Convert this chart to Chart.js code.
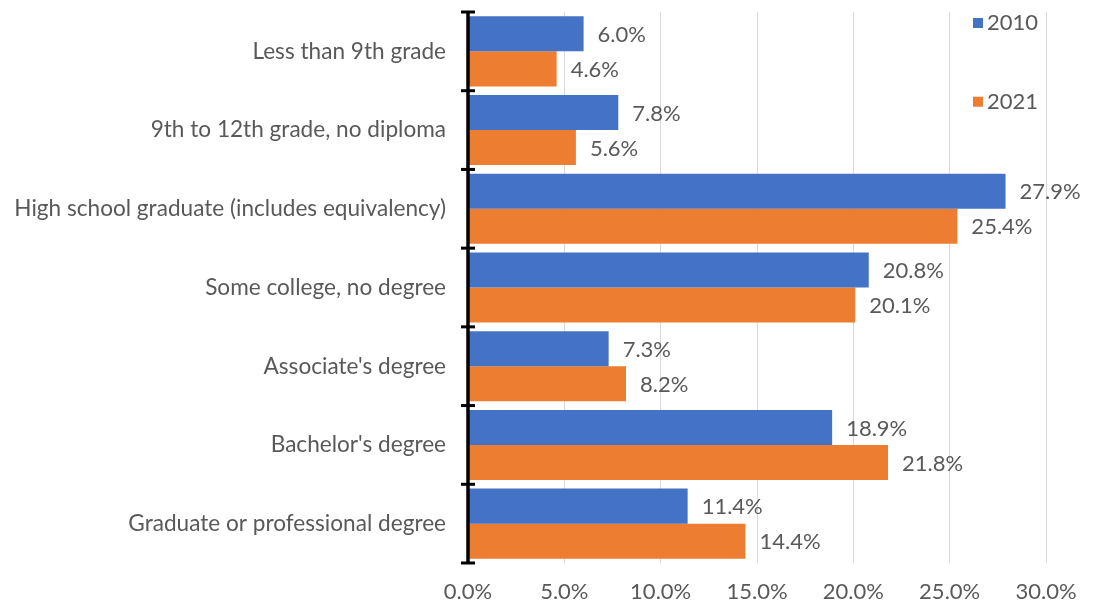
<!DOCTYPE html>
<html>
<head>
<meta charset="utf-8">
<script src="https://cdn.jsdelivr.net/npm/chart.js@4.4.0/dist/chart.umd.min.js"></script>
<style>
  html, body { margin: 0; padding: 0; background: #fff; }
  #wrap { width: 1097px; height: 604px; }
</style>
</head>
<body>
<div id="wrap"><canvas id="eduChart"></canvas></div>
<script>
// Nível de escolaridade, 2010 vs 2021 (percentual)
var categorias = [
  'Less than 9th grade',
  '9th to 12th grade, no diploma',
  'High school graduate (includes equivalency)',
  'Some college, no degree',
  "Associate's degree",
  "Bachelor's degree",
  'Graduate or professional degree'
];
var anos = ['2010', '2021'];
var valores2010 = [6.0, 7.8, 27.9, 20.8, 7.3, 18.9, 11.4];
var valores2021 = [4.6, 5.6, 25.4, 20.1, 8.2, 21.8, 14.4];
var ticksX = [0, 5, 10, 15, 20, 25, 30];

var cinza = '#595959';
var fonte = 'Lato, "Open Sans", sans-serif';

// rótulos de valor ao lado de cada barra
var rotulos = {
  id: 'rotulos',
  afterDatasetsDraw: function(chart) {
    var ctx = chart.ctx;
    ctx.save();
    ctx.font = '22px ' + fonte;
    ctx.fillStyle = cinza;
    ctx.textAlign = 'left';
    ctx.textBaseline = 'middle';
    chart.data.datasets.forEach(function(ds, i) {
      chart.getDatasetMeta(i).data.forEach(function(bar, j) {
        ctx.fillText(ds.data[j].toFixed(1) + '%', bar.x + 14, bar.y + 1);
      });
    });
    ctx.restore();
  }
};

// eixo vertical preto com marcas nas divisões das categorias
var eixo = {
  id: 'eixo',
  afterDatasetsDraw: function(chart) {
    var ctx = chart.ctx;
    var area = chart.chartArea;
    var x0 = chart.scales.x.getPixelForValue(0);
    var passo = (area.bottom - area.top) / categorias.length;
    ctx.save();
    ctx.strokeStyle = '#000';
    ctx.lineWidth = 3.5;
    ctx.beginPath();
    ctx.moveTo(x0, area.top);
    ctx.lineTo(x0, area.bottom);
    ctx.stroke();
    ctx.lineWidth = 3;
    for (var i = 0; i <= categorias.length; i++) {
      var py = area.top + i * passo;
      ctx.beginPath();
      ctx.moveTo(x0 - 7, py);
      ctx.lineTo(x0 + 7, py);
      ctx.stroke();
    }
    ctx.restore();
  }
};

// legenda vertical dentro da área do gráfico
var legenda = {
  id: 'legenda',
  afterDraw: function(chart) {
    var ctx = chart.ctx;
    var area = chart.chartArea;
    var passo = (area.bottom - area.top) / categorias.length;
    ctx.save();
    ctx.font = '22px ' + fonte;
    ctx.textBaseline = 'middle';
    chart.data.datasets.forEach(function(ds, i) {
      var cy = area.top + 11 + i * passo;
      ctx.fillStyle = ds.backgroundColor;
      ctx.fillRect(area.right - 73, cy - 5, 10, 10);
      ctx.fillStyle = cinza;
      ctx.fillText(ds.label, area.right - 59, cy);
    });
    ctx.restore();
  }
};

var ctx = document.getElementById('eduChart').getContext('2d');
var eduChart = new Chart(ctx, {
  type: 'bar',
  data: {
    labels: categorias,
    datasets: [{
      label: anos[0],
      data: valores2010,
      backgroundColor: '#4472C4',
      categoryPercentage: 0.89,
      barPercentage: 1
    }, {
      label: anos[1],
      data: valores2021,
      backgroundColor: '#ED7D31',
      categoryPercentage: 0.89,
      barPercentage: 1
    }]
  },
  options: {
    indexAxis: 'y',
    responsive: true,
    maintainAspectRatio: false,
    animation: false,
    layout: { padding: { top: 12, right: 51, bottom: 0, left: 0 } },
    plugins: {
      legend: { display: false },
      tooltip: { enabled: false }
    },
    scales: {
      x: {
        min: 0,
        max: 30,
        afterBuildTicks: function(scale) {
          scale.ticks = ticksX.map(function(v) { return { value: v }; });
        },
        afterFit: function(scale) {
          scale.height = 41;
          scale.paddingLeft = 0;
          scale.paddingRight = 0;
        },
        grid: { color: '#d9d9d9', lineWidth: 1, drawTicks: false },
        border: { display: false },
        ticks: {
          padding: 16,
          color: cinza,
          font: { family: fonte, size: 22 },
          maxRotation: 0,
          callback: function(v) { return v.toFixed(1) + '%'; }
        }
      },
      y: {
        afterFit: function(scale) {
          scale.width = 468;
          scale.paddingTop = 0;
          scale.paddingBottom = 0;
        },
        grid: { display: false, drawTicks: false },
        border: { display: false },
        ticks: {
          padding: 22,
          color: cinza,
          font: { family: fonte, size: 22.6 }
        }
      }
    }
  },
  plugins: [rotulos, eixo, legenda]
});
</script>
</body>
</html>
